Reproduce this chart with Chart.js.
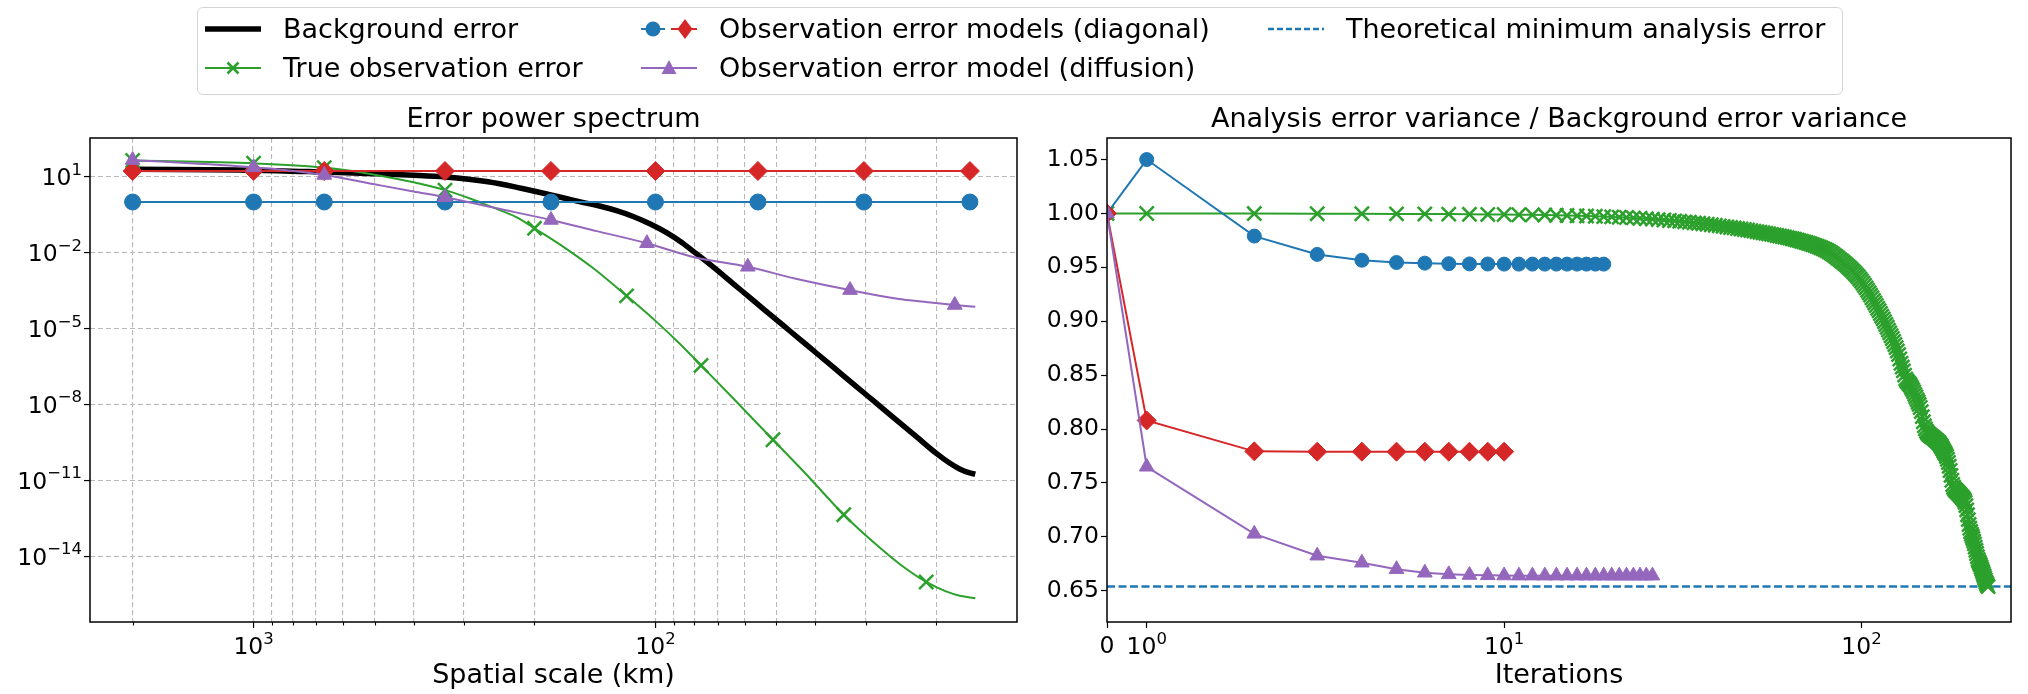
<!DOCTYPE html>
<html>
<head>
<meta charset="utf-8">
<script src="https://cdn.jsdelivr.net/npm/chart.js@4.4.1/dist/chart.umd.min.js"></script>
<style>
html,body{margin:0;padding:0;background:#fff;}
#page{position:relative;width:2028px;height:694px;overflow:hidden;background:#fff;font-family:"DejaVu Sans",sans-serif;color:#000;}
canvas.chart{position:absolute;top:0;}
.ptitle{position:absolute;top:100px;height:36px;line-height:36px;font-size:27px;text-align:center;white-space:nowrap;}
#legend{position:absolute;left:197px;top:7px;width:1646px;height:88px;box-sizing:border-box;border:1.5px solid #d4d4d4;border-radius:6px;background:rgba(255,255,255,0.8);}
.lg-icon{position:absolute;}
.lg-text{position:absolute;font-size:27px;line-height:36px;height:36px;white-space:nowrap;}
</style>
</head>
<body>
<div id="page">
  <canvas id="c1" class="chart" width="1040" height="694" style="left:0px"></canvas>
  <canvas id="c2" class="chart" width="988" height="694" style="left:1040px"></canvas>
  <div class="ptitle" style="left:90px;width:927px">Error power spectrum</div>
  <div class="ptitle" style="left:1107px;width:904px">Analysis error variance / Background error variance</div>
  <div id="legend"></div>
</div>
<script>
// ================= DATA =================
// Left panel: error power spectra vs spatial scale (km)
const backgroundKm    = [2000, 1000, 667, 500, 400, 334, 261, 216, 182, 166, 150, 137, 125, 113.6, 103, 93.8, 86, 80.5, 72, 64.1, 58, 53, 48, 43.7, 40, 36.1, 32, 28.7, 25.3, 22.5, 20, 18.5, 17.5, 16.6, 16];
const backgroundPower = [19.5, 18.2, 15.3, 13.2, 11.5, 9.8, 6.3, 3.5, 1.9, 1.35, 0.93, 0.68, 0.457, 0.269, 0.135, 0.0617, 0.0251, 0.0112, 2.78e-3, 5.97e-4, 1.58e-4, 4.80e-5, 1.29e-5, 3.70e-6, 1.15e-6, 2.95e-7, 5.93e-8, 1.40e-8, 2.63e-9, 5.55e-10, 1.16e-10, 4.7e-11, 2.8e-11, 2.0e-11, 1.74e-11];

const trueObsKm    = [2000, 1000, 667, 500, 400, 334, 286, 257, 222, 200, 167, 143, 118, 100, 87, 77, 64, 51, 42, 34, 28, 24.5, 21.2, 19, 17.5, 16];
const trueObsPower = [43.7, 33.9, 22.9, 12.0, 6.0, 2.95, 1.29, 0.653, 0.254, 0.0912, 0.01445, 2.45e-3, 1.95e-4, 2.0e-5, 2.5e-6, 3.47e-7, 1.7e-8, 3.98e-10, 1.62e-11, 4.37e-13, 2.57e-14, 4.47e-15, 9.55e-16, 4.17e-16, 2.75e-16, 2.19e-16];
const trueObsMarkKm = [2000, 1000, 667, 334, 200, 118, 77, 51, 34, 21.2];

const diagKm        = [2000, 1000, 667, 334, 182, 100, 55.6, 30.3, 16.5, 16];
const diag1Power    = [1.0, 1.0, 1.0, 1.0, 1.0, 1.0, 1.0, 1.0, 1.0, 1.0];
const diag2Power    = [16.8, 16.8, 16.8, 16.8, 16.8, 16.8, 16.8, 16.8, 16.8, 16.8];
const diagMarkKm    = [2000, 1000, 667, 334, 182, 100, 55.6, 30.3, 16.5];

const diffusionKm    = [2000, 1000, 667, 500, 400, 334, 250, 182, 140, 105, 80, 58.9, 45, 32.8, 25, 21, 18, 16];
const diffusionPower = [45.7, 23.4, 11.7, 5.0, 2.6, 1.55, 0.575, 0.195, 0.0708, 0.0234, 6.6e-3, 2.75e-3, 9.5e-4, 3.3e-4, 1.5e-4, 1.1e-4, 8.5e-5, 7.2e-5];
const diffusionMarkKm = [2000, 1000, 667, 334, 182, 105, 58.9, 32.8, 18];

const leftXTicks       = [2000, 1000, 900, 800, 700, 600, 500, 400, 300, 200, 100, 90, 80, 70, 60, 50, 40, 30, 20];
const leftXMajor       = [1000, 100];
const leftXMajorLabels = ['10^3', '10^2'];
const leftYTicks       = [1e1, 1e-2, 1e-5, 1e-8, 1e-11, 1e-14];
const leftYTickLabels  = ['10^1', '10^\u22122', '10^\u22125', '10^\u22128', '10^\u221211', '10^\u221214'];

// Right panel: analysis / background error variance vs iteration (index = iteration)
const iterDiag1 = [1.000, 1.050, 0.979, 0.962, 0.9566, 0.9545, 0.9539, 0.9534, 0.9532, 0.9531, 0.953, 0.953, 0.953, 0.953, 0.953, 0.953, 0.953, 0.953, 0.953, 0.953];
const iterDiag2 = [1.000, 0.808, 0.7793, 0.779, 0.779, 0.779, 0.779, 0.779, 0.779, 0.779, 0.779];
const iterDiffusion = [1.000, 0.765, 0.7028, 0.6825, 0.676, 0.670, 0.6667, 0.6652, 0.6646, 0.6643, 0.6641, 0.664, 0.664, 0.664, 0.664, 0.664, 0.664, 0.664, 0.664, 0.664, 0.664, 0.664, 0.664, 0.664, 0.664, 0.664, 0.664];
const iterTrueObs = [
  1.0000, 1.0000, 0.9999, 0.9998, 0.9997, 0.9996, 0.9995, 0.9994, 0.9992, 0.9991,
  0.9990, 0.9988, 0.9987, 0.9985, 0.9983, 0.9981, 0.9979, 0.9976, 0.9974, 0.9971,
  0.9968, 0.9965, 0.9962, 0.9959, 0.9955, 0.9951, 0.9947, 0.9943, 0.9939, 0.9935,
  0.9931, 0.9927, 0.9922, 0.9918, 0.9913, 0.9909, 0.9904, 0.9900, 0.9895, 0.9890,
  0.9885, 0.9880, 0.9875, 0.9870, 0.9866, 0.9861, 0.9856, 0.9851, 0.9846, 0.9841,
  0.9836, 0.9831, 0.9826, 0.9821, 0.9816, 0.9811, 0.9806, 0.9801, 0.9796, 0.9791,
  0.9786, 0.9781, 0.9776, 0.9771, 0.9766, 0.9760, 0.9754, 0.9748, 0.9742, 0.9736,
  0.9730, 0.9724, 0.9718, 0.9711, 0.9704, 0.9697, 0.9690, 0.9682, 0.9674, 0.9666,
  0.9657, 0.9647, 0.9636, 0.9624, 0.9611, 0.9598, 0.9585, 0.9572, 0.9559, 0.9546,
  0.9532, 0.9518, 0.9504, 0.9489, 0.9474, 0.9459, 0.9443, 0.9427, 0.9410, 0.9392,
  0.9373, 0.9353, 0.9332, 0.9310, 0.9288, 0.9265, 0.9242, 0.9218, 0.9194, 0.9170,
  0.9146, 0.9121, 0.9097, 0.9072, 0.9047, 0.9022, 0.8996, 0.8970, 0.8944, 0.8918,
  0.8892, 0.8866, 0.8840, 0.8812, 0.8784, 0.8755, 0.8724, 0.8690, 0.8650, 0.8610,
  0.8575, 0.8540, 0.8500, 0.8465, 0.8445, 0.8432, 0.8420, 0.8405, 0.8386, 0.8366,
  0.8345, 0.8322, 0.8298, 0.8273, 0.8251, 0.8229, 0.8200, 0.8162, 0.8115, 0.8068,
  0.8030, 0.8002, 0.7980, 0.7965, 0.7954, 0.7945, 0.7938, 0.7931, 0.7925, 0.7918,
  0.7910, 0.7902, 0.7895, 0.7887, 0.7878, 0.7868, 0.7856, 0.7843, 0.7828, 0.7812,
  0.7795, 0.7780, 0.7765, 0.7745, 0.7720, 0.7690, 0.7655, 0.7615, 0.7570, 0.7525,
  0.7485, 0.7460, 0.7445, 0.7435, 0.7428, 0.7420, 0.7412, 0.7404, 0.7395, 0.7387,
  0.7378, 0.7369, 0.7360, 0.7350, 0.7340, 0.7320, 0.7290, 0.7250, 0.7205, 0.7160,
  0.7115, 0.7080, 0.7050, 0.7025, 0.7005, 0.6985, 0.6960, 0.6935, 0.6905, 0.6875,
  0.6845, 0.6815, 0.6790, 0.6770, 0.6755, 0.6740, 0.6720, 0.6700, 0.6680, 0.6660,
  0.6640, 0.6620, 0.6600, 0.6580, 0.6565, 0.6550, 0.6538
];
const theoreticalMin = 0.654;

const rightXTicks      = [0, 1, 10, 100];
const rightXTickLabels = ['0', '10^0', '10^1', '10^2'];
const rightYTicks      = [0.65, 0.70, 0.75, 0.80, 0.85, 0.90, 0.95, 1.00, 1.05];

// axis limits
const LEFT_X_MIN = 12.6, LEFT_X_MAX = 2553;
const LEFT_Y_MIN = 2.5e-17, LEFT_Y_MAX = 339;
const RIGHT_X_MIN = 0, RIGHT_X_MAX = 262;
const RIGHT_Y_MIN = 0.621, RIGHT_Y_MAX = 1.070;
const SYMLOG_LINTHRESH = 1, SYMLOG_LINSCALE = 0.1;

// ================= STYLE =================
const FONT = 'DejaVu Sans';
const TICK_SIZE = 23.5, SUP_SIZE = 16.5, SUP_RAISE = 10.5;
const TICK_LEN = 6, MINOR_TICK_LEN = 3.5, TICK_PAD = 2;
const GREEN = '#2ca02c', BLUE = '#1f77b4', RED = '#d62728', PURPLE = '#9467bd';
Chart.defaults.font.family = FONT;
Chart.defaults.color = '#000';

const pts = (xs, ys) => xs.map((x, i) => ({x: x, y: ys[i]}));
const iterPts = ys => ys.map((y, i) => ({x: i, y: y}));
const markAt = (list, r) => ctx => (ctx.raw && list.includes(ctx.raw.x)) ? r : 0;

// ---- symmetric log scale (matplotlib 'symlog') ----
class SymlogScale extends Chart.LinearScale {
  static id = 'symlog';
  static defaults = Chart.LinearScale.defaults;
  _tf(v) {
    const lsa = SYMLOG_LINSCALE / (1 - 1 / 10);
    const a = Math.abs(v), s = v < 0 ? -1 : 1;
    return s * (a <= SYMLOG_LINTHRESH ? (a / SYMLOG_LINTHRESH) * lsa : lsa + Math.log10(a / SYMLOG_LINTHRESH));
  }
  _itf(t) {
    const lsa = SYMLOG_LINSCALE / (1 - 1 / 10);
    const a = Math.abs(t), s = t < 0 ? -1 : 1;
    return s * (a <= lsa ? (a / lsa) * SYMLOG_LINTHRESH : SYMLOG_LINTHRESH * Math.pow(10, a - lsa));
  }
  getPixelForValue(v) {
    const a = this._tf(this.min), b = this._tf(this.max);
    return this.getPixelForDecimal((this._tf(v) - a) / (b - a));
  }
  getValueForPixel(p) {
    const a = this._tf(this.min), b = this._tf(this.max);
    return this._itf(a + this.getDecimalForPixel(p) * (b - a));
  }
}
Chart.register(SymlogScale);

const framePlugin = {
  id: 'frame',
  afterDatasetsDraw(chart) {
    const {ctx, chartArea: a} = chart;
    ctx.save();
    ctx.strokeStyle = '#000';
    ctx.lineWidth = 1.5;
    ctx.strokeRect(a.left, a.top, a.right - a.left, a.bottom - a.top);
    ctx.restore();
  }
};
const minorTickPlugin = {
  id: 'minorTicks',
  afterDraw(chart) {
    const s = chart.scales.x;
    if (!s || s.type !== 'logarithmic') return;
    const ctx = chart.ctx;
    ctx.save();
    ctx.strokeStyle = '#000';
    ctx.lineWidth = 1.1;
    s.ticks.forEach(t => {
      if (t.major) return;
      const px = Math.round(s.getPixelForValue(t.value)) + 0.5;
      ctx.beginPath();
      ctx.moveTo(px, s.top);
      ctx.lineTo(px, s.top + MINOR_TICK_LEN);
      ctx.stroke();
    });
    ctx.restore();
  }
};
// Tick labels written like matplotlib mathtext: base "10" with a raised, smaller exponent.
function mathTicks(specs) {
  return {
    id: 'mathTicks',
    afterDraw(chart) {
      const ctx = chart.ctx;
      specs.forEach(spec => {
        const s = chart.scales[spec.id];
        ctx.save();
        ctx.fillStyle = '#000';
        ctx.textBaseline = 'alphabetic';
        ctx.textAlign = 'left';
        spec.values.forEach((v, i) => {
          const parts = spec.labels[i].split('^');
          const base = parts[0], exp = parts[1] || '';
          ctx.font = TICK_SIZE + 'px "' + FONT + '"';
          const bw = ctx.measureText(base).width;
          ctx.font = SUP_SIZE + 'px "' + FONT + '"';
          const ew = exp ? ctx.measureText(exp).width : 0;
          const p = s.getPixelForValue(v);
          let x0, yb;
          if (s.isHorizontal()) {
            x0 = p - (bw + ew) / 2;
            yb = s.top + (exp ? 32 : 31);
          } else {
            x0 = s.right - TICK_LEN - TICK_PAD - bw - ew;
            yb = p + 0.729 * TICK_SIZE / 2;
          }
          ctx.font = TICK_SIZE + 'px "' + FONT + '"';
          ctx.fillText(base, x0, yb);
          if (exp) {
            ctx.font = SUP_SIZE + 'px "' + FONT + '"';
            ctx.fillText(exp, x0 + bw, yb - SUP_RAISE);
          }
        });
        ctx.restore();
      });
    }
  };
}

const tickFont = {family: FONT, size: TICK_SIZE};
const labelFont = {family: FONT, size: 27};

// ================= LEFT CHART =================
new Chart(document.getElementById('c1'), {
  type: 'line',
  data: {
    datasets: [
      {label: 'Background error', data: pts(backgroundKm, backgroundPower), borderColor: '#000', borderWidth: 5.5,
       pointRadius: 0, cubicInterpolationMode: 'monotone', order: 5},
      {label: 'True observation error', data: pts(trueObsKm, trueObsPower), borderColor: GREEN, borderWidth: 2,
       pointStyle: 'crossRot', pointRadius: markAt(trueObsMarkKm, 10), pointBorderWidth: 2.5,
       pointBorderColor: GREEN, pointBackgroundColor: GREEN, cubicInterpolationMode: 'monotone', order: 4},
      {label: 'Observation error model (diagonal, 1)', data: pts(diagKm, diag1Power), borderColor: BLUE, borderWidth: 2,
       pointStyle: 'circle', pointRadius: markAt(diagMarkKm, 8), pointBorderWidth: 1,
       pointBorderColor: BLUE, pointBackgroundColor: BLUE, order: 3},
      {label: 'Observation error model (diagonal, 2)', data: pts(diagKm, diag2Power), borderColor: RED, borderWidth: 2,
       pointStyle: 'rectRot', pointRadius: markAt(diagMarkKm, 9.5), pointBorderWidth: 1,
       pointBorderColor: RED, pointBackgroundColor: RED, order: 2},
      {label: 'Observation error model (diffusion)', data: pts(diffusionKm, diffusionPower), borderColor: PURPLE, borderWidth: 2,
       pointStyle: 'triangle', pointRadius: markAt(diffusionMarkKm, 8.5), pointBorderWidth: 1,
       pointBorderColor: PURPLE, pointBackgroundColor: PURPLE, cubicInterpolationMode: 'monotone', order: 1}
    ]
  },
  options: {
    responsive: false, animation: false, events: [],
    layout: {padding: {top: 138, right: 23, bottom: 0, left: 0}},
    plugins: {legend: {display: false}, title: {display: false}, tooltip: {enabled: false}},
    datasets: {line: {clip: 0}},
    scales: {
      x: {
        type: 'logarithmic', reverse: true, min: LEFT_X_MIN, max: LEFT_X_MAX, bounds: 'data',
        afterBuildTicks: s => { s.ticks = leftXTicks.map(v => ({value: v, major: leftXMajor.includes(v)})); },
        afterFit: s => { s.height = 72; },
        ticks: {autoSkip: false, maxRotation: 0, minRotation: 0, padding: TICK_PAD, font: tickFont, color: '#000', callback: () => ''},
        grid: {color: '#b8b8b8', lineWidth: 1.1, drawTicks: true, tickLength: TICK_LEN, tickWidth: 1.2,
               tickColor: c => (c.tick && c.tick.major) ? '#000' : 'rgba(0,0,0,0)'},
        border: {display: false, dash: [5, 3]},
        title: {display: true, text: 'Spatial scale (km)', font: labelFont, color: '#000', padding: {top: 2, bottom: 2}}
      },
      y: {
        type: 'logarithmic', min: LEFT_Y_MIN, max: LEFT_Y_MAX, bounds: 'data',
        afterBuildTicks: s => { s.ticks = leftYTicks.map(v => ({value: v, major: true})); },
        afterFit: s => { s.width = 90; },
        ticks: {autoSkip: false, padding: TICK_PAD, font: tickFont, color: '#000', callback: () => ''},
        grid: {color: '#b8b8b8', lineWidth: 1.1, drawTicks: true, tickLength: TICK_LEN, tickWidth: 1.2, tickColor: '#000'},
        border: {display: false, dash: [5, 3]}
      }
    }
  },
  plugins: [framePlugin, minorTickPlugin, mathTicks([
    {id: 'x', values: leftXMajor, labels: leftXMajorLabels},
    {id: 'y', values: leftYTicks, labels: leftYTickLabels}
  ])]
});

// ================= RIGHT CHART =================
new Chart(document.getElementById('c2'), {
  type: 'line',
  data: {
    datasets: [
      {label: 'True observation error', data: iterPts(iterTrueObs), borderColor: GREEN, borderWidth: 2,
       pointStyle: 'crossRot', pointRadius: 10, pointBorderWidth: 2.5, pointBorderColor: GREEN, pointBackgroundColor: GREEN, order: 4},
      {label: 'Observation error model (diagonal, 1)', data: iterPts(iterDiag1), borderColor: BLUE, borderWidth: 2,
       pointStyle: 'circle', pointRadius: 7, pointBorderWidth: 1, pointBorderColor: BLUE, pointBackgroundColor: BLUE, order: 3},
      {label: 'Observation error model (diagonal, 2)', data: iterPts(iterDiag2), borderColor: RED, borderWidth: 2,
       pointStyle: 'rectRot', pointRadius: 9.5, pointBorderWidth: 1, pointBorderColor: RED, pointBackgroundColor: RED, order: 2},
      {label: 'Observation error model (diffusion)', data: iterPts(iterDiffusion), borderColor: PURPLE, borderWidth: 2,
       pointStyle: 'triangle', pointRadius: 8.5, pointBorderWidth: 1, pointBorderColor: PURPLE, pointBackgroundColor: PURPLE, order: 1},
      {label: 'Theoretical minimum analysis error', data: [{x: RIGHT_X_MIN, y: theoreticalMin}, {x: RIGHT_X_MAX, y: theoreticalMin}],
       borderColor: BLUE, borderWidth: 2.6, borderDash: [8, 3.5], pointRadius: 0, order: 6}
    ]
  },
  options: {
    responsive: false, animation: false, events: [],
    layout: {padding: {top: 138, right: 17, bottom: 0, left: 0}},
    plugins: {legend: {display: false}, title: {display: false}, tooltip: {enabled: false}},
    datasets: {line: {clip: 0}},
    scales: {
      x: {
        type: 'symlog', min: RIGHT_X_MIN, max: RIGHT_X_MAX, bounds: 'data',
        afterBuildTicks: s => { s.ticks = rightXTicks.map(v => ({value: v, major: true})); },
        afterFit: s => { s.height = 72; },
        ticks: {autoSkip: false, maxRotation: 0, minRotation: 0, padding: TICK_PAD, font: tickFont, color: '#000', callback: () => ''},
        grid: {drawOnChartArea: false, drawTicks: true, tickLength: TICK_LEN, tickWidth: 1.2, tickColor: '#000'},
        border: {display: false},
        title: {display: true, text: 'Iterations', font: labelFont, color: '#000', padding: {top: 2, bottom: 2}}
      },
      y: {
        type: 'linear', min: RIGHT_Y_MIN, max: RIGHT_Y_MAX, bounds: 'data',
        afterBuildTicks: s => { s.ticks = rightYTicks.map(v => ({value: v, major: true})); },
        afterFit: s => { s.width = 67; },
        ticks: {autoSkip: false, padding: TICK_PAD, font: tickFont, color: '#000', callback: v => Number(v).toFixed(2)},
        grid: {drawOnChartArea: false, drawTicks: true, tickLength: TICK_LEN, tickWidth: 1.2, tickColor: '#000'},
        border: {display: false}
      }
    }
  },
  plugins: [framePlugin, mathTicks([
    {id: 'x', values: rightXTicks, labels: rightXTickLabels}
  ])]
});

// ================= LEGEND (HTML) =================
const legendItems = [
  {kind: 'bg',   label: 'Background error',                     hx: 205,  tx: 283,  y: 29},
  {kind: 'true', label: 'True observation error',               hx: 205,  tx: 283,  y: 68},
  {kind: 'diag', label: 'Observation error models (diagonal)',  hx: 641,  tx: 719,  y: 29},
  {kind: 'diff', label: 'Observation error model (diffusion)',  hx: 641,  tx: 719,  y: 68},
  {kind: 'theo', label: 'Theoretical minimum analysis error',   hx: 1268, tx: 1346, y: 29}
];
function drawIcon(kind) {
  const c = document.createElement('canvas');
  c.width = 64; c.height = 36; c.className = 'lg-icon';
  const g = c.getContext('2d');
  const y = 18, x0 = 2, x1 = 58;
  const line = (a, b, col, w, dash) => { g.save(); g.strokeStyle = col; g.lineWidth = w; g.setLineDash(dash || []); g.beginPath(); g.moveTo(a, y); g.lineTo(b, y); g.stroke(); g.restore(); };
  if (kind === 'bg') line(x0, x1, '#000', 5.5);
  if (kind === 'true') {
    line(x0, x1, GREEN, 2);
    const m = (x0 + x1) / 2, r = 5.5;
    g.strokeStyle = GREEN; g.lineWidth = 2.5; g.beginPath();
    g.moveTo(m - r, y - r); g.lineTo(m + r, y + r); g.moveTo(m - r, y + r); g.lineTo(m + r, y - r); g.stroke();
  }
  if (kind === 'diag') {
    line(x0, 26, BLUE, 2);
    g.fillStyle = BLUE; g.beginPath(); g.arc(14, y, 7.5, 0, Math.PI * 2); g.fill();
    line(32, x1, RED, 2);
    const m = 46, r = 10;
    g.fillStyle = RED; g.beginPath(); g.moveTo(m, y - r); g.lineTo(m + r * 0.75, y); g.lineTo(m, y + r); g.lineTo(m - r * 0.75, y); g.closePath(); g.fill();
  }
  if (kind === 'diff') {
    line(x0, x1, PURPLE, 2);
    const m = (x0 + x1) / 2;
    g.fillStyle = PURPLE; g.beginPath(); g.moveTo(m, y - 8); g.lineTo(m + 7.5, y + 6); g.lineTo(m - 7.5, y + 6); g.closePath(); g.fill();
  }
  if (kind === 'theo') line(x0, x1, BLUE, 2.6, [6, 3]);
  return c;
}
const page = document.getElementById('page');
legendItems.forEach(it => {
  const c = drawIcon(it.kind);
  c.style.left = (it.hx - 2) + 'px';
  c.style.top = (it.y - 18) + 'px';
  page.appendChild(c);
  const t = document.createElement('div');
  t.className = 'lg-text';
  t.textContent = it.label;
  t.style.left = it.tx + 'px';
  t.style.top = (it.y - 18) + 'px';
  page.appendChild(t);
});
</script>
</body>
</html>
